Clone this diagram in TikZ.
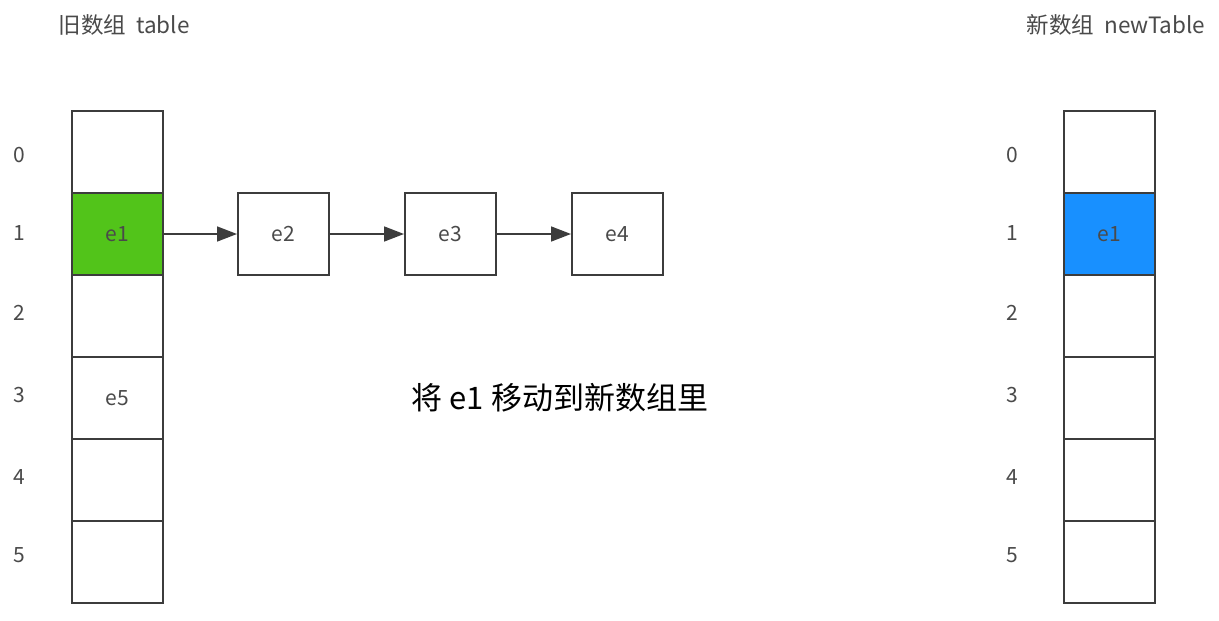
\documentclass[tikz,border=0pt]{standalone}
\usepackage{fontspec}
\setmainfont{Noto Sans CJK SC}
\usetikzlibrary{arrows.meta}
\definecolor{linegray}{HTML}{3C3C3C}
\definecolor{textgray}{HTML}{4A4A4A}
\definecolor{oldgreen}{HTML}{52C41A}
\definecolor{newblue}{HTML}{1890FF}
\tikzset{
  cell/.style={draw=linegray, line width=2pt, minimum width=91pt, minimum height=82pt,
    inner sep=0pt, anchor=north west, font=\fontsize{21}{21}\selectfont, text=textgray},
  idx/.style={font=\fontsize{21}{21}\selectfont, text=textgray},
  title/.style={font=\fontsize{22.5}{22.5}\selectfont, text=textgray},
  link/.style={draw=linegray, line width=1.6pt, -{Triangle[length=20pt,width=15pt]}}
}
\begin{document}
\begin{tikzpicture}[x=1pt,y=-1pt]
\useasboundingbox (0,0) rectangle (1219,621);
\fill[white] (0,0) rectangle (1219,621);

% titles
\node[title] (oldtitle) at (124,25) {旧数组\ \ table};
\node[title] (newtitle) at (1116,25) {新数组\ \ newTable};

% old table
\node[cell] (o0) at (71,110) {};
\node[cell, fill=oldgreen] (o1) at (71,192) {e1};
\node[cell] (o2) at (71,274) {};
\node[cell] (o3) at (71,356) {e5};
\node[cell] (o4) at (71,438) {};
\node[cell] (o5) at (71,520) {};

% new table
\node[cell] (n0) at (1063,110) {};
\node[cell, fill=newblue] (n1) at (1063,192) {e1};
\node[cell] (n2) at (1063,274) {};
\node[cell] (n3) at (1063,356) {};
\node[cell] (n4) at (1063,438) {};
\node[cell] (n5) at (1063,520) {};

% indices
\foreach \i/\y in {0/155,1/233,2/313,3/395,4/477,5/555}{
  \node[idx] (oi\i) at (19,\y) {\i};
  \node[idx] (ni\i) at (1012,\y) {\i};
}

% linked list hanging off bucket 1
\node[cell] (e2) at (237,192) {e2};
\node[cell] (e3) at (404,192) {e3};
\node[cell] (e4) at (571,192) {e4};
\draw[link] (o1.east) -- (e2.west);
\draw[link] (e2.east) -- (e3.west);
\draw[link] (e3.east) -- (e4.west);

% caption
\node[font=\fontsize{31}{31}\selectfont, text=black] (caption) at (560,398) {将 e1 移动到新数组里};
\end{tikzpicture}
\end{document}
